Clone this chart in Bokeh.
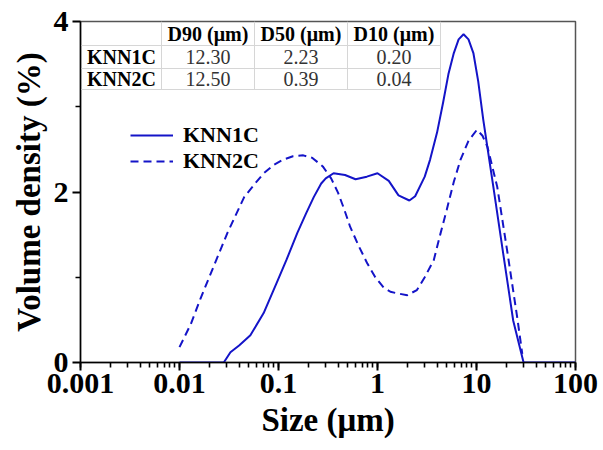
from bokeh.plotting import figure
from bokeh.models import (Range1d, LogTicker, FixedTicker, CustomJSTickFormatter,
                          Legend, LegendItem, Label, BoxAnnotation)
from bokeh.embed import file_html
from bokeh.resources import INLINE

# ---- data ----
knn1c_size = [0.01, 0.02, 0.028, 0.0327, 0.04, 0.052, 0.0708, 0.098, 0.12, 0.155, 0.19, 0.227,
              0.27, 0.30, 0.36, 0.47, 0.60, 0.78, 1.0, 1.3, 1.63, 2.1, 2.4, 3.0, 3.4, 4.0, 4.6,
              5.2, 5.9, 6.6, 7.4, 8.3, 9.3, 10.4, 11.7, 14.8, 18.6, 23.5, 29.9, 40, 60, 100]
knn1c_vol = [0, 0, 0, 0.12, 0.2, 0.32, 0.58, 0.96, 1.2, 1.52, 1.75, 1.94,
             2.1, 2.16, 2.22, 2.2, 2.15, 2.18, 2.22, 2.13, 1.96, 1.9, 1.95, 2.18, 2.38, 2.7, 3.05,
             3.38, 3.63, 3.79, 3.85, 3.79, 3.63, 3.3, 2.85, 2.06, 1.28, 0.49, 0, 0, 0, 0]

knn2c_size = [0.01, 0.013, 0.0163, 0.022, 0.0305, 0.045, 0.058, 0.071, 0.09, 0.112, 0.14, 0.178,
              0.22, 0.28, 0.34, 0.40, 0.46, 0.53, 0.65, 0.79, 0.95, 1.15, 1.35, 1.6, 2.0, 2.5,
              3.0, 3.7, 4.3, 5.0, 5.9, 6.9, 8.3, 10.1, 11.5, 12.9, 16.2, 20.6, 26, 29]
knn2c_vol = [0.18, 0.45, 0.75, 1.12, 1.52, 1.94, 2.1, 2.22, 2.32, 2.38, 2.42, 2.43,
             2.4, 2.3, 2.16, 1.99, 1.8, 1.59, 1.36, 1.16, 1.0, 0.88, 0.83, 0.81, 0.79, 0.85,
             1.0, 1.2, 1.5, 1.79, 2.12, 2.38, 2.6, 2.73, 2.66, 2.53, 2.06, 1.28, 0.5, 0.1]

x_ticks = [0.001, 0.01, 0.1, 1, 10, 100]
x_tick_labels = ["0.001", "0.01", "0.1", "1", "10", "100"]
y_ticks = [0, 2, 4]
y_minor_ticks = [1, 3]

table_header = ["", "D90 (\u03bcm)", "D50 (\u03bcm)", "D10 (\u03bcm)"]
table_rows = ["KNN1C", "KNN2C"]
table_d90 = ["12.30", "12.50"]
table_d50 = ["2.23", "0.39"]
table_d10 = ["0.20", "0.04"]

FONT = "Liberation Serif"
BLUE = "#1414c8"

p = figure(width=603, height=450, x_axis_type="log", output_backend="svg",
           toolbar_location=None, x_range=Range1d(0.001, 100), y_range=Range1d(0, 4),
           min_border_left=80, min_border_right=28, min_border_top=21, min_border_bottom=88)
p.background_fill_color = "white"
p.border_fill_color = "white"
p.grid.visible = False
p.outline_line_color = "#555555"
p.outline_line_width = 1.5

r1 = p.line(knn1c_size, knn1c_vol, line_color=BLUE, line_width=2)
r2 = p.line(knn2c_size, knn2c_vol, line_color=BLUE, line_width=2, line_dash="8 5")

xa = p.xaxis[0]
xa.ticker = LogTicker(desired_num_ticks=6, num_minor_ticks=10)
xa.formatter = CustomJSTickFormatter(args=dict(vals=x_ticks, labels=x_tick_labels), code="""
const i = vals.findIndex(v => Math.abs(Math.log10(v) - Math.log10(tick)) < 1e-6);
return i >= 0 ? labels[i] : '';
""")
ya = p.yaxis[0]
ya.ticker = FixedTicker(ticks=y_ticks, minor_ticks=y_minor_ticks)

for ax in (xa, ya):
    ax.axis_line_color = "black"
    ax.axis_line_width = 1.5
    ax.major_tick_line_color = "black"
    ax.minor_tick_line_color = "black"
    ax.major_tick_line_width = 2
    ax.minor_tick_line_width = 1.6
    ax.major_tick_in = 0
    ax.minor_tick_in = 0
    ax.major_tick_out = 8
    ax.minor_tick_out = 5
    ax.major_label_text_font = FONT
    ax.major_label_text_font_style = "bold"
    ax.major_label_text_font_size = "30px"
    ax.major_label_text_color = "black"
    ax.axis_label_text_font = FONT
    ax.axis_label_text_font_style = "bold"
    ax.axis_label_text_font_size = "33px"
    ax.axis_label_text_color = "black"

xa.axis_label = "Size (\u03bcm)"
xa.major_label_standoff = 3
xa.axis_label_standoff = 6
ya.axis_label = "Volume density (%)"
ya.major_label_standoff = 4
ya.axis_label_standoff = 4

legend = Legend(items=[LegendItem(label="KNN1C", renderers=[r1]),
                       LegendItem(label="KNN2C", renderers=[r2])],
                location=(50, 188), glyph_width=43, glyph_height=24, label_height=24,
                label_standoff=10, padding=0, spacing=0, margin=0,
                border_line_alpha=0, background_fill_alpha=0,
                label_text_font=FONT, label_text_font_style="bold",
                label_text_font_size="22px", label_text_color="black")
p.add_layout(legend)

# ---- inset table (screen coordinates relative to frame bottom-left) ----
FL, FB = 80, 362
col_edges = [81, 161, 254, 347, 440]
row_edges = [21, 45, 68, 89]
GRID = "#d6d6d6"
for ry in row_edges[1:]:
    p.add_layout(BoxAnnotation(left=col_edges[0] - FL, right=col_edges[-1] - FL,
                               bottom=FB - ry - 0.5, top=FB - ry + 0.5,
                               left_units="screen", right_units="screen",
                               bottom_units="screen", top_units="screen",
                               fill_color=GRID, fill_alpha=1, line_alpha=0))
for cx in col_edges[1:]:
    p.add_layout(BoxAnnotation(left=cx - FL - 0.5, right=cx - FL + 0.5,
                               bottom=FB - row_edges[-1], top=FB - row_edges[0],
                               left_units="screen", right_units="screen",
                               bottom_units="screen", top_units="screen",
                               fill_color=GRID, fill_alpha=1, line_alpha=0))

def cell(text, ci, ri, bold):
    cxm = (col_edges[ci] + col_edges[ci + 1]) / 2 - FL
    cym = FB - (row_edges[ri] + row_edges[ri + 1]) / 2
    p.add_layout(Label(x=cxm, y=cym, x_units="screen", y_units="screen", text=text,
                       text_align="center", text_baseline="middle", text_font=FONT,
                       text_font_size="20px", text_font_style="bold" if bold else "normal",
                       text_color="black" if bold else "#333333"))

for ci, h in enumerate(table_header):
    if h:
        cell(h, ci, 0, True)
for ri, name in enumerate(table_rows):
    cell(name, 0, ri + 1, True)
    cell(table_d90[ri], 1, ri + 1, False)
    cell(table_d50[ri], 2, ri + 1, False)
    cell(table_d10[ri], 3, ri + 1, False)

open("out.html", "w").write(file_html(p, INLINE))
